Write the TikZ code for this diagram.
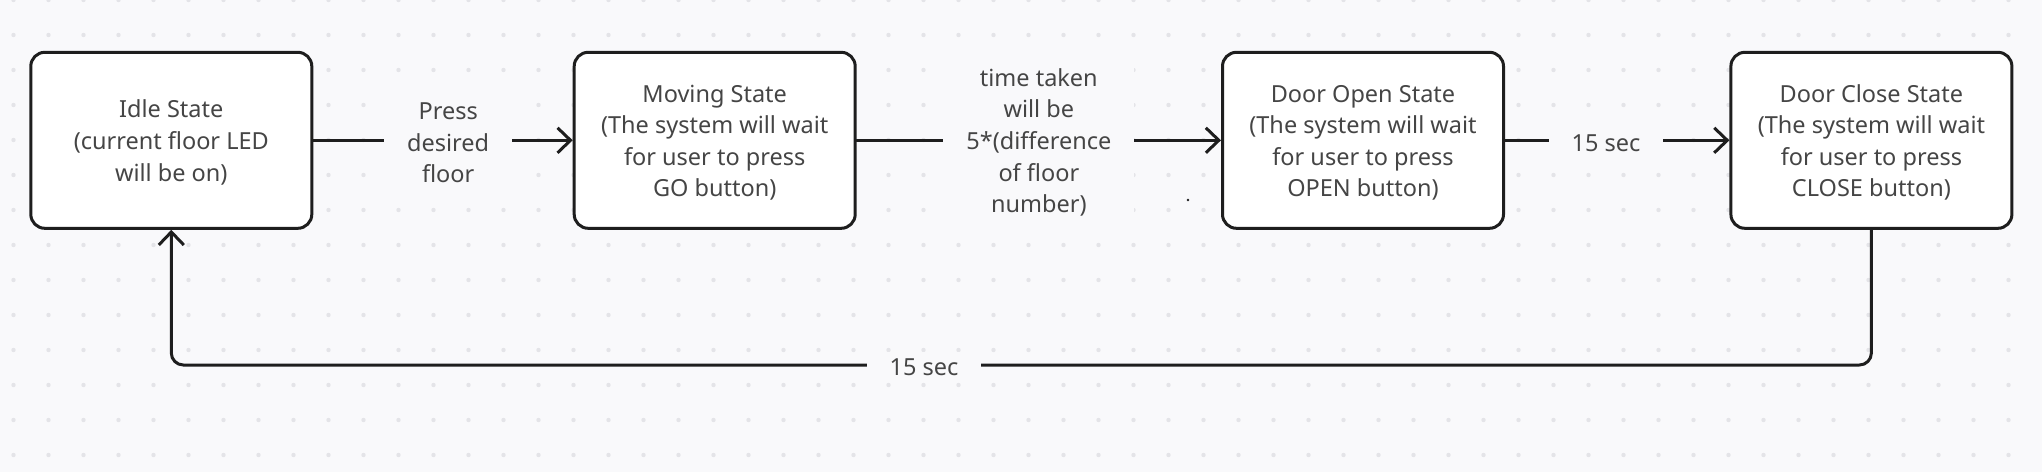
\documentclass[tikz,border=0pt]{standalone}
\usepackage{fontspec}
\setmainfont{Noto Sans}
\usetikzlibrary{arrows.meta}
\definecolor{bg}{HTML}{F9F9FB}
\definecolor{griddot}{HTML}{E4E4E8}
\definecolor{ink}{HTML}{1E1E1E}
\definecolor{txt}{HTML}{454545}
\newcommand{\topstrut}{\rule{0pt}{11pt}}
\begin{document}
\begin{tikzpicture}[x=0.5pt,y=-0.5pt,
  statebox/.style={draw=ink, line width=1.5pt, fill=white, rounded corners=7pt,
    minimum width=140.5pt, minimum height=88pt, align=center, text=txt,
    font=\fontsize{11.75pt}{15.8pt}\selectfont, inner sep=0pt},
  lbl/.style={fill=bg, text=txt, align=center, inner xsep=11.5pt, inner ysep=1pt,
    font=\fontsize{11.75pt}{15.8pt}\selectfont},
  arr/.style={draw=ink, line width=1.5pt, line cap=round, line join=round,
    -{Straight Barb[length=6.5pt,width=12.5pt,line width=1.5pt]}}]
\useasboundingbox (0,0) rectangle (2042,472);
\fill[bg] (0,0) rectangle (2042,472);
\foreach \i in {0,...,57} {
  \foreach \j in {0,...,13} {
    \fill[griddot] ({13.5+35*\i},{35*\j}) circle (1.1pt);
  }
}
\node[statebox] (idle) at (171.3,140.3) {\topstrut Idle State\\(current floor LED\\will be on)};
\node[statebox] (moving) at (714.7,140.3) {\topstrut Moving State\\(The system will wait\\for user to press\\GO button)};
\node[statebox] (open) at (1363,140.3) {\topstrut Door Open State\\(The system will wait\\for user to press\\OPEN button)};
\node[statebox] (close) at (1871.4,140.3) {\topstrut Door Close State\\(The system will wait\\for user to press\\CLOSE button)};
\draw[arr] (idle.east) -- node[lbl, pos=0.52] (l1) {\topstrut Press\\desired\\floor} (moving.west);
\draw[arr] (moving.east) -- node[lbl, pos=0.5] (l2) {\topstrut time taken\\will be\\5*(difference\\of floor\\number)} (open.west);
\draw[arr] (open.east) -- node[lbl, pos=0.45] (l3) {\topstrut 15 sec} (close.west);
\coordinate (lowR) at (close.south |- 0,365);
\coordinate (lowL) at (idle.south |- 0,365);
\draw[arr, rounded corners=6pt] (close.south) -- (lowR) -- (lowL) -- (idle.south);
\node[lbl] (l4) at (924,365) {\topstrut 15 sec};
\fill[ink] (1188,200) circle (0.7pt);
\end{tikzpicture}
\end{document}
